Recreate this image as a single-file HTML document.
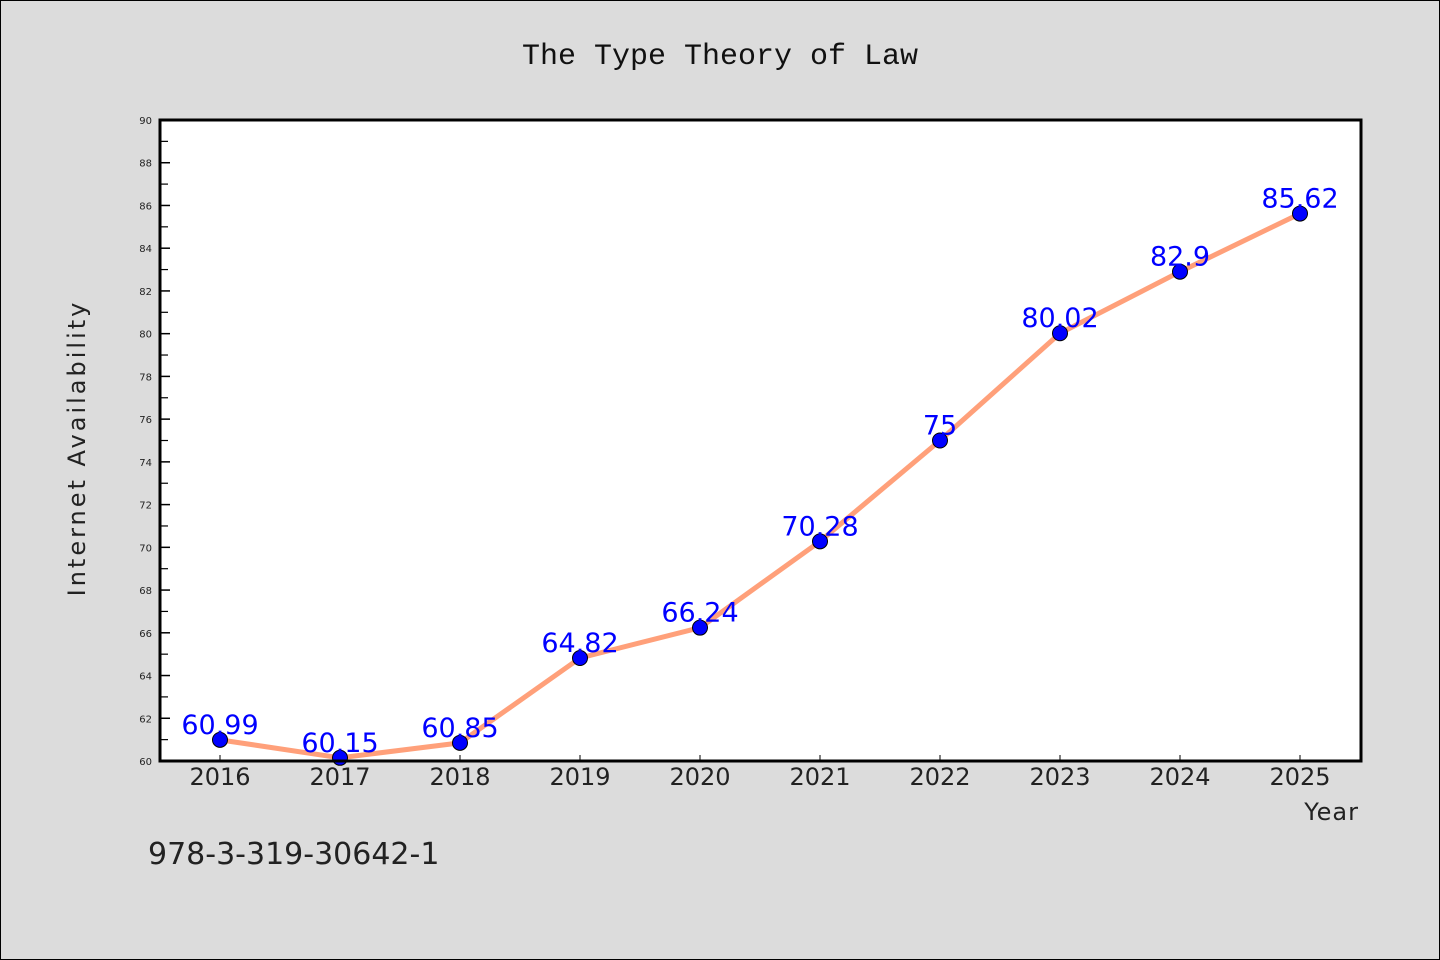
<!DOCTYPE html>
<html><head><meta charset="utf-8"><style>
html,body{margin:0;padding:0;background:#dcdcdc;}
svg{display:block;font-family:"WenQuanYi Zen Hei","DejaVu Sans",sans-serif;}
</style></head><body>
<svg id="chart" width="1440" height="960" xmlns="http://www.w3.org/2000/svg">
<rect x="0.5" y="0.5" width="1439" height="959" fill="#dcdcdc" stroke="#000" stroke-width="1"/>
<text x="720" y="64" text-anchor="middle" font-size="30" font-family="'Liberation Mono',monospace" fill="#111">The Type Theory of Law</text>
<rect x="160" y="120" width="1201" height="641" fill="#fff"/>
<g id="grid"></g>
<g id="series"></g>
<rect x="160" y="120" width="1201" height="641" fill="none" stroke="#000" stroke-width="3"/>
<text transform="translate(85,448) rotate(-90)" text-anchor="middle" font-size="24" letter-spacing="3" fill="#222">Internet Availability</text>
<text x="1359" y="820" text-anchor="end" font-size="24" letter-spacing="1" fill="#222">Year</text>
<text x="148" y="864" font-size="30" fill="#222">978-3-319-30642-1</text>
</svg>
<script>
const categories = ["2016","2017","2018","2019","2020","2021","2022","2023","2024","2025"];
const values = [60.99,60.15,60.85,64.82,66.24,70.28,75,80.02,82.9,85.62];
const labels = ["60.99","60.15","60.85","64.82","66.24","70.28","75","80.02","82.9","85.62"];
const yTicks = [60,62,64,66,68,70,72,74,76,78,80,82,84,86,88,90];
const yMin = 60, yMax = 90;
const NS = "http://www.w3.org/2000/svg";
const plotLeft = 160, plotTop = 120, plotBottom = 761;
function xs(i){ return 220 + i * 120; }
function ys(v){ return plotBottom - (v - yMin) / (yMax - yMin) * (plotBottom - plotTop); }
function mk(tag, attrs, parent){ const e = document.createElementNS(NS, tag); for (const k in attrs) e.setAttribute(k, attrs[k]); parent.appendChild(e); return e; }
const grid = document.getElementById("grid");
const series = document.getElementById("series");
yTicks.forEach((t, i) => {
  const y = ys(t);
  const tk = mk("line", {x1:plotLeft, x2:plotLeft+10, y1:y, y2:y, stroke:"#000", "stroke-width":1.5}, grid);
  
  
  const lb = mk("text", {x:152, y:y+4, "text-anchor":"end", "font-size":10, fill:"#222"}, grid);
  
  
  lb.textContent = t;
  if (i < yTicks.length - 1) {
    const ym = ys(t + 1);
    const mt = mk("line", {x1:plotLeft, x2:plotLeft+8, y1:ym, y2:ym, stroke:"#000", "stroke-width":1.2}, grid);
    
    
  }
});
categories.forEach((c, i) => {
  const x = xs(i);
  const tk = mk("line", {x1:x, x2:x, y1:plotBottom, y2:plotBottom-6, stroke:"#000", "stroke-width":1}, grid);
  
  
  const lb = mk("text", {x:x, y:785, "text-anchor":"middle", "font-size":24, fill:"#222"}, grid);
  
  
  lb.textContent = c;
});
const pts = values.map((v, i) => xs(i) + "," + ys(v)).join(" ");
const line = mk("polyline", {points:pts, fill:"none", stroke:"#ffa07a", "stroke-width":5, "stroke-linejoin":"round"}, series);


values.forEach((v, i) => {
  const c = mk("circle", {cx:xs(i), cy:ys(v), r:7.5, fill:"#0000ff", stroke:"#000", "stroke-width":1}, series);
  
  
});
values.forEach((v, i) => {
  const t = mk("text", {x:xs(i), y:ys(v)-6, "text-anchor":"middle", "font-size":27, fill:"#0000ff"}, series);
  
  
  t.textContent = labels[i];
});
</script>
</body></html>
